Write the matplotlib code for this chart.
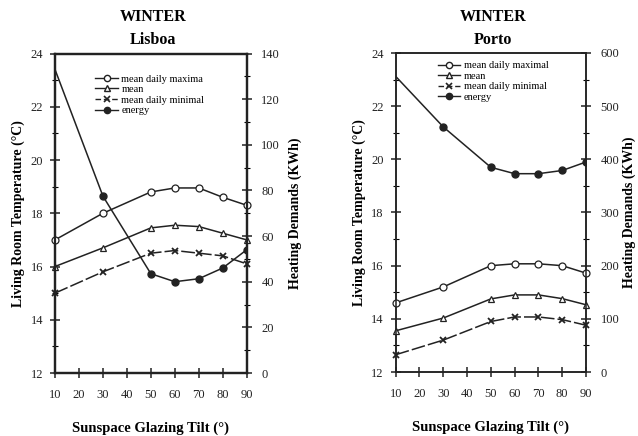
import matplotlib
matplotlib.use("Agg")
import matplotlib.pyplot as plt
from matplotlib.lines import Line2D
from matplotlib.ticker import MultipleLocator

plt.rcParams['font.family'] = ['Liberation Serif', 'DejaVu Serif']

tilt = [10, 30, 50, 60, 70, 80, 90]

lis_max = [17.0, 18.0, 18.8, 18.95, 18.95, 18.6, 18.3]
lis_mean = [16.0, 16.7, 17.45, 17.55, 17.5, 17.25, 17.0]
lis_min = [15.0, 15.8, 16.5, 16.6, 16.5, 16.4, 16.1]
lis_energy = [133, 77.5, 43.5, 40.0, 41.3, 46.0, 54.0]

por_max = [14.6, 15.2, 16.0, 16.07, 16.07, 16.0, 15.72]
por_mean = [13.55, 14.03, 14.75, 14.9, 14.9, 14.76, 14.53]
por_min = [12.65, 13.2, 13.9, 14.07, 14.07, 13.97, 13.76]
por_energy = [556, 461, 385, 373, 373, 379, 395]

legend_labels = ["mean daily maximal", "mean", "mean daily minimal", "energy"]
x_ticks = [10, 20, 30, 40, 50, 60, 70, 80, 90]

W, H = 638, 436
fig = plt.figure(figsize=(W / 100, H / 100), dpi=100)

col = '#222222'

def panel(rect, city, tmax, tmean, tmin, energy, e_max, e_step, e_minor,
          spine_w, leg_pos, leg_labels, title_x, rpad):
    ax = fig.add_axes(rect)
    ax.plot(tilt, tmax, color=col, lw=1.1, marker='o', ms=5, mfc='white', mec=col, mew=0.9, clip_on=False, zorder=3)
    ax.plot(tilt, tmean, color=col, lw=1.1, marker='^', ms=5, mfc='white', mec=col, mew=0.9, clip_on=False, zorder=3)
    ax.plot(tilt, tmin, color=col, lw=1.1, ls=(0, (9, 2)), marker='x', ms=4.5, mec=col, mew=1.3, clip_on=False, zorder=3)
    ax.set_xlim(10, 90)
    ax.set_ylim(12, 24)
    ax.set_xticks(x_ticks)
    ax.set_yticks(range(12, 25, 2))
    ax.yaxis.set_minor_locator(MultipleLocator(1))
    ax.tick_params(axis='both', which='major', direction='inout', length=7, width=1.1,
                   labelsize=9, colors=col)
    ax.tick_params(axis='y', which='minor', direction='inout', length=4, width=0.8)
    ax.tick_params(axis='x', pad=8)
    ax.tick_params(axis='y', pad=5)
    for s in ax.spines.values():
        s.set_linewidth(spine_w)
        s.set_color(col)
    ax.set_ylabel("Living Room Temperature (°C)", fontsize=10, fontweight='bold', labelpad=4)
    ax.set_xlabel("Sunspace Glazing Tilt (°)", fontsize=10.5, fontweight='bold', labelpad=15)

    ax2 = ax.twinx()
    ax2.plot(tilt, energy, color=col, lw=1.1, marker='o', ms=5, mfc=col, mec=col,
             markevery=slice(1, None), zorder=3)
    ax2.set_ylim(0, e_max)
    ax2.set_yticks(range(0, e_max + 1, e_step))
    ax2.yaxis.set_minor_locator(MultipleLocator(e_minor))
    ax2.tick_params(axis='y', which='major', direction='inout', length=7, width=1.1,
                    labelsize=9, colors=col, pad=7)
    ax2.tick_params(axis='y', which='minor', direction='inout', length=4, width=0.8)
    for s in ax2.spines.values():
        s.set_linewidth(spine_w)
        s.set_color(col)
    ax2.set_ylabel("Heating Demands (KWh)", fontsize=10, fontweight='bold', labelpad=rpad)

    handles = [
        Line2D([], [], color=col, lw=1.0, marker='o', ms=4.5, mfc='white', mec=col),
        Line2D([], [], color=col, lw=1.0, marker='^', ms=4.5, mfc='white', mec=col),
        Line2D([], [], color=col, lw=1.0, ls=(0, (4, 2)), marker='x', ms=4, mec=col, mew=1.2),
        Line2D([], [], color=col, lw=1.0, marker='o', ms=4.5, mfc=col, mec=col),
    ]
    ax2.legend(handles, leg_labels, loc='upper left', bbox_to_anchor=leg_pos,
               frameon=False, fontsize=7.5, handlelength=2.2, handletextpad=0.3,
               labelspacing=0.12, borderpad=0, borderaxespad=0)

    fig.text(title_x, 1 - 17 / H, "WINTER", ha='center', va='center',
             fontsize=11.5, fontweight='bold')
    fig.text(title_x, 1 - 40 / H, city, ha='center', va='center',
             fontsize=11.5, fontweight='bold')
    return ax, ax2

panel([55 / W, 1 - 373 / H, (246.7 - 55) / W, (373 - 53.5) / H], "Lisboa",
      lis_max, lis_mean, lis_min, lis_energy, 140, 20, 10, 1.6,
      (0.21, 0.935), ["mean daily maxima", "mean", "mean daily minimal", "energy"], 153 / W, 6)

panel([395.7 / W, 1 - 372 / H, (586 - 395.7) / W, (372 - 53) / H], "Porto",
      por_max, por_mean, por_min, por_energy, 600, 100, 50, 1.1,
      (0.22, 0.975), legend_labels, 493 / W, 2)

fig.savefig("out.png", dpi=100)
